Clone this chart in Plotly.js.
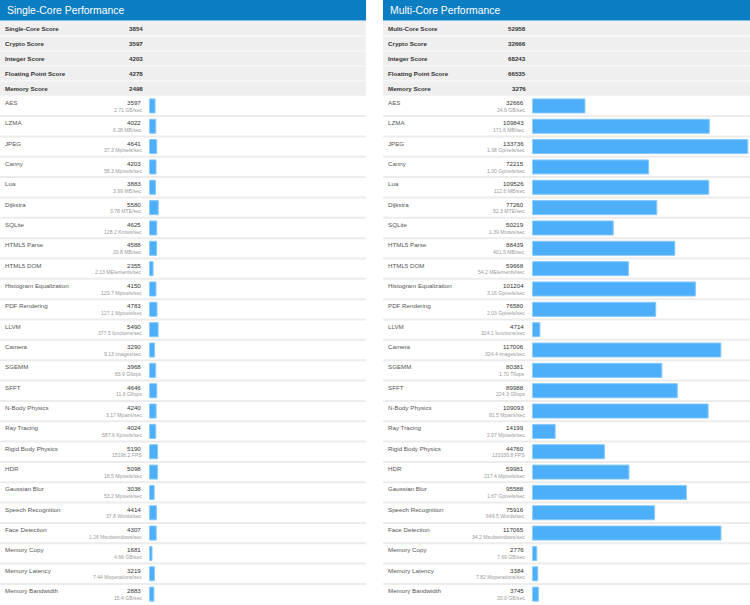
<!DOCTYPE html>
<html>
<head>
<meta charset="utf-8">
<script src="https://cdn.plot.ly/plotly-3.0.1.min.js"></script>
<style>html,body{margin:0;padding:0;background:#fff;}#chart{width:750px;height:605px;}</style>
</head>
<body>
<div id="chart"></div>
<script>
// ---------- DATA ----------
const panelTitles = ["Single-Core Performance", "Multi-Core Performance"];

const singleSummaryLabels = ["Single-Core Score", "Crypto Score", "Integer Score", "Floating Point Score", "Memory Score"];
const singleSummaryValues = [3854, 3597, 4203, 4278, 2498];
const multiSummaryLabels = ["Multi-Core Score", "Crypto Score", "Integer Score", "Floating Point Score", "Memory Score"];
const multiSummaryValues = [52958, 32666, 68243, 66535, 3276];

const benchmarks = ["AES", "LZMA", "JPEG", "Canny", "Lua", "Dijkstra", "SQLite", "HTML5 Parse", "HTML5 DOM",
  "Histogram Equalization", "PDF Rendering", "LLVM", "Camera", "SGEMM", "SFFT", "N-Body Physics", "Ray Tracing",
  "Rigid Body Physics", "HDR", "Gaussian Blur", "Speech Recognition", "Face Detection", "Memory Copy",
  "Memory Latency", "Memory Bandwidth"];

const singleScores = [3597, 4022, 4641, 4203, 3883, 5580, 4625, 4588, 2355, 4150, 4783, 5490, 3290, 3968, 4646,
  4240, 4024, 5190, 5098, 3038, 4414, 4307, 1681, 3219, 2883];
const singleRates = ["2.71 GB/sec", "6.28 MB/sec", "37.3 Mpixels/sec", "58.3 Mpixels/sec", "3.99 MB/sec",
  "3.78 MTE/sec", "128.2 Krows/sec", "20.8 MB/sec", "2.13 MElements/sec", "129.7 Mpixels/sec", "127.1 Mpixels/sec",
  "377.5 functions/sec", "9.13 images/sec", "83.9 Gflops", "11.6 Gflops", "3.17 Mpairs/sec", "587.6 Kpixels/sec",
  "15196.2 FPS", "18.5 Mpixels/sec", "53.2 Mpixels/sec", "37.8 Words/sec", "1.26 Msubwindows/sec", "4.66 GB/sec",
  "7.44 Moperations/sec", "15.4 GB/sec"];

const multiScores = [32666, 109843, 133736, 72215, 109526, 77260, 50219, 88439, 59668, 101204, 76580, 4714, 117006,
  80381, 89988, 109093, 14199, 44760, 59981, 95588, 75916, 117065, 2776, 3384, 3745];
const multiRates = ["24.6 GB/sec", "171.6 MB/sec", "1.08 Gpixels/sec", "1.00 Gpixels/sec", "112.6 MB/sec",
  "52.3 MTE/sec", "1.39 Mrows/sec", "401.5 MB/sec", "54.2 MElements/sec", "3.16 Gpixels/sec", "2.03 Gpixels/sec",
  "324.1 functions/sec", "324.4 images/sec", "1.70 Tflops", "224.3 Gflops", "81.5 Mpairs/sec", "2.07 Mpixels/sec",
  "131030.8 FPS", "217.4 Mpixels/sec", "1.67 Gpixels/sec", "649.5 Words/sec", "34.2 Msubwindows/sec", "7.69 GB/sec",
  "7.82 Moperations/sec", "20.0 GB/sec"];

// ---------- LAYOUT HELPERS ----------
const W = 750, H = 605;
const px = x => x / W;
const py = y => 1 - y / H;
const FONT = "Liberation Sans, Arial, sans-serif";

const panels = [
  {x0: 0, x1: 366, title: panelTitles[0], sLabels: singleSummaryLabels, sValues: singleSummaryValues,
   scores: singleScores, rates: singleRates},
  {x0: 383, x1: 750, title: panelTitles[1], sLabels: multiSummaryLabels, sValues: multiSummaryValues,
   scores: multiScores, rates: multiRates}
];

const headerH = 20.5;
const sumTop = 21, sumRowH = 14.95, nSum = 5;
const rowsTop = sumTop + sumRowH * nSum; // ~95.7
const rowH = (604.3 - rowsTop) / benchmarks.length;
const barOffset = 149.3;     // bar start relative to panel
const valRight = 143;
const xMax = 135100;

const shapes = [], annotations = [];

panels.forEach((p, k) => {
  // header
  shapes.push({type: 'rect', xref: 'paper', yref: 'paper', x0: px(p.x0), x1: px(p.x1), y0: py(headerH), y1: py(0),
    fillcolor: '#0b7dc2', line: {width: 0}, layer: 'below'});
  annotations.push({xref: 'paper', yref: 'paper', x: px(p.x0 + 4.5), y: py(10.3), xanchor: 'left', yanchor: 'middle',
    text: p.title, showarrow: false, font: {family: FONT, size: 10.4, color: '#ffffff'}});
  // summary area
  shapes.push({type: 'rect', xref: 'paper', yref: 'paper', x0: px(p.x0), x1: px(p.x1), y0: py(rowsTop), y1: py(sumTop),
    fillcolor: '#efefef', line: {width: 0}, layer: 'below'});
  for (let i = 1; i < nSum; i++) {
    const yy = sumTop + sumRowH * i;
    shapes.push({type: 'line', xref: 'paper', yref: 'paper', x0: px(p.x0), x1: px(p.x1), y0: py(yy), y1: py(yy),
      line: {color: '#fafafa', width: 1.2}, layer: 'below'});
  }
  p.sLabels.forEach((lab, i) => {
    const cy = sumTop + sumRowH * i + sumRowH / 2 + 0.2;
    annotations.push({xref: 'paper', yref: 'paper', x: px(p.x0 + 3), y: py(cy), xanchor: 'left', yanchor: 'middle',
      text: '<b>' + lab + '</b>', showarrow: false, font: {family: FONT, size: 6.2, color: '#333'}});
    annotations.push({xref: 'paper', yref: 'paper', x: px(p.x0 + 144.5), y: py(cy), xanchor: 'right', yanchor: 'middle',
      text: '<b>' + p.sValues[i] + '</b>', showarrow: false, font: {family: FONT, size: 6.2, color: '#333'}});
  });
  // benchmark rows
  benchmarks.forEach((name, i) => {
    const top = rowsTop + rowH * i;
    if (i > 0) {
      shapes.push({type: 'line', xref: 'paper', yref: 'paper', x0: px(p.x0), x1: px(p.x1), y0: py(top), y1: py(top),
        line: {color: '#ececec', width: 2}, layer: 'below'});
    }
    annotations.push({xref: 'paper', yref: 'paper', x: px(p.x0 + 3), y: py(top + 6.6), xanchor: 'left', yanchor: 'middle',
      text: name, showarrow: false, font: {family: FONT, size: 6.2, color: '#555'}});
    annotations.push({xref: 'paper', yref: 'paper', x: px(p.x0 + valRight), y: py(top + 6.6), xanchor: 'right', yanchor: 'middle',
      text: String(p.scores[i]), showarrow: false, font: {family: FONT, size: 6.2, color: '#333'}});
    annotations.push({xref: 'paper', yref: 'paper', x: px(p.x0 + 144.2), y: py(top + 13.8), xanchor: 'right', yanchor: 'middle',
      text: p.rates[i], showarrow: false, font: {family: FONT, size: 5.1, color: '#9a9a9a'}});
  });
});

const barColor = '#4daffa';
const traces = panels.map((p, k) => ({
  type: 'bar', orientation: 'h',
  x: p.scores, y: benchmarks,
  xaxis: k === 0 ? 'x' : 'x2', yaxis: k === 0 ? 'y' : 'y2',
  marker: {color: barColor, line: {color: '#85c8fc', width: 1}},
  hoverinfo: 'x+y', showlegend: false
}));

const yDomain = [py(rowsTop + rowH * benchmarks.length), py(rowsTop)];
const axX = (d) => ({domain: d, range: [0, xMax], showgrid: false, zeroline: false, showticklabels: false,
  showline: false, ticks: '', fixedrange: true});
const axY = {domain: yDomain, type: 'category', range: [benchmarks.length - 0.5, -0.5], showgrid: false,
  zeroline: false, showticklabels: false, showline: false, ticks: '', fixedrange: true};

const layout = {
  width: W, height: H,
  margin: {l: 0, r: 0, t: 0, b: 0, pad: 0},
  paper_bgcolor: '#ffffff', plot_bgcolor: 'rgba(0,0,0,0)',
  bargap: 0.31,
  showlegend: false,
  xaxis: axX([px(panels[0].x0 + barOffset), px(panels[0].x1)]),
  xaxis2: axX([px(panels[1].x0 + barOffset), px(panels[1].x1)]),
  yaxis: Object.assign({anchor: 'x'}, axY),
  yaxis2: Object.assign({anchor: 'x2'}, axY),
  shapes: shapes,
  annotations: annotations,
  font: {family: FONT}
};

Plotly.newPlot('chart', traces, layout, {displayModeBar: false, staticPlot: true});
</script>
</body>
</html>
